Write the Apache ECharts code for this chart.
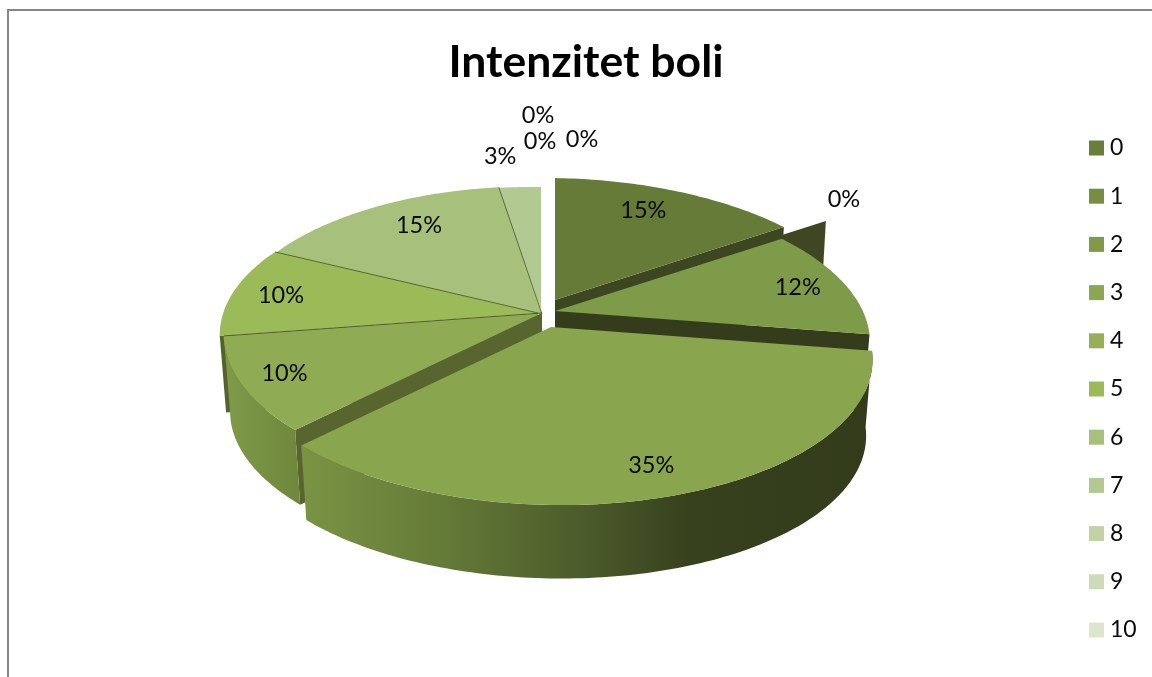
<!DOCTYPE html>
<html>
<head>
<meta charset="utf-8">
<style>html,body{margin:0;padding:0;background:#fff}#c{width:1152px;height:677px}</style>
<script src="https://cdn.jsdelivr.net/npm/echarts@6/dist/echarts.min.js"></script>
</head>
<body>
<div id="c"></div>
<script>
const chartTitle = 'Intenzitet boli';
const categories = ['0','1','2','3','4','5','6','7','8','9','10'];
const percents = [15,0,12,35,10,10,15.4,2.6,0,0,0];

// styling
const legendColors = ['#6a7e3a','#758e42','#7f9b48','#8ca751','#95b059','#9bba58','#a7c07b','#b3c992','#c1d3a5','#cddcb8','#dce6cd'];
const faceColors   = ['#667b37','#3e4722','#7d9b48','#89a54e','#8fab53','#9bba58','#a7c07b','#b3c992','#c1d3a5','#cddcb8','#dce6cd'];
const cutColors    = ['#3c4621','#3e4722','#343c1c',null,'#58652f','#55622e',null,null,null,null,null];
const drawOrder    = [5,4,6,8,7,3,2,1,0,0,0];
const edgeLine     = [0,0,0,0,1,1,1,0,0,0,0];
const faceOverlap  = [0,0,0,0,0,0,1.5,0,0,0,0];
const explode      = [[14,-13],[56,-19],[14,-2],[10,14],[1,0],[-3,0],[1,1],[0,-4],[0,0],[0,0],[0,0]];
const radiusScale  = [1,1,0.99,1.01,1,1,1,1,1,1,1];
const yScale       = [1,1,1,1,1,1,1.045,1,1,1,1];
const labelNudge   = [[-1,-9],[82,-39],[39,0],[15,30],[-53,9],[-43,-5],[-3,-12],[-25,-63],[41,-84],[-1,-82],[-3,-108]];
const CX = 541, CY = 313, RX = 313, RY = 144, PERSP = 0.181, DEPTH = 77, DEPTH_SCALE = 0.98, SHEAR = 0.0157;

const total = percents.reduce((a,b)=>a+b,0);
const starts = []; { let acc = 0; percents.forEach(v=>{ starts.push(acc/total*360); acc += v; }); }

function rim(i, deg, f, low, noShear) {
  const t = deg*Math.PI/180, r = f*radiusScale[i], X = r*Math.sin(t), Y = -r*Math.cos(t);
  const s = 1/(1-PERSP*Y);
  let x = RX*X*s, y = RY*yScale[i]*Y*s + (noShear ? 0 : SHEAR*RX*X*s);
  if (low) { x *= DEPTH_SCALE; y = y*DEPTH_SCALE + DEPTH; }
  return [CX+explode[i][0]+x, CY+explode[i][1]+y];
}
function arc(i, a, b, low) {
  const pts = [], n = Math.max(2, Math.ceil(Math.abs(b-a)));
  for (let k=0;k<=n;k++) pts.push(rim(i, a+(b-a)*k/n, 1, low));
  return pts;
}
function wallGradient(stops){
  return new echarts.graphic.LinearGradient(0,0,1,0,stops.map(s=>({offset:s[0],color:s[1]})));
}

const outerWalls = {
  3: { stops:[[0,'#7a9444'],[0.25,'#647a37'],[0.5,'#4b5a2a'],[0.68,'#37411d'],[1,'#333b1b']] },
  4: { stops:[[0,'#7f9b49'],[1,'#6e873c']] }
};

function sliceItem(i){
  return function(){
    const children = [];
    const v = percents[i], a = starts[i], b = a + v/total*360, mid = (a+b)/2;
    if (cutColors[i]) {
      const cut = mid < 180 ? b : a;
      const apexTop = rim(i,cut,0,false), apexLow = rim(i,cut,0,true);
      children.push({type:'polygon', silent:true,
        shape:{points:[apexTop, rim(i,cut,1,false), rim(i,cut,1,true), apexLow]},
        style:{fill:cutColors[i]}});
    }
    if (v > 0) {
      if (outerWalls[i]) {
        const top = arc(i,a,b,false), low = arc(i,a,b,true).reverse();
        children.push({type:'polygon', silent:true, shape:{points:top.concat(low)},
          style:{fill:wallGradient(outerWalls[i].stops)}});
      }
      children.push({type:'polygon', silent:true,
        shape:{points:[rim(i,a,0,false)].concat(arc(i,a-faceOverlap[i],b,false))},
        style:{fill:faceColors[i]}});
      if (edgeLine[i]) {
        children.push({type:'polyline', silent:true,
          shape:{points:[rim(i,b,0,false), rim(i,b,1,false)]},
          style:{stroke:'rgba(70,82,38,0.8)', lineWidth:1, fill:'none'}});
      }
    }
    return {type:'group', children};
  };
}

function labelItem(params){
  const i = params.dataIndex;
  const v = percents[i], a = starts[i], mid = a + v/total*180;
  const p = rim(i, mid, 0.7, false, true);
  return {type:'text', silent:true, style:{
    text: Math.round(v)+'%', x:p[0]+labelNudge[i][0], y:p[1]+labelNudge[i][1],
    align:'center', verticalAlign:'middle', font:'23.5px Lato', fill:'#0a0a0a'}};
}

const series = categories.map((name,i)=>({
  type:'custom', name, coordinateSystem:'none', z:2+drawOrder[i], animation:false,
  itemStyle:{color:legendColors[i]}, data:[[percents[i]]], renderItem:sliceItem(i)
}));
series.push({type:'custom', name:'labels', coordinateSystem:'none', z:30, animation:false,
  data:percents.map(v=>[v]), renderItem:labelItem});

const chart = echarts.init(document.getElementById('c'), null, {renderer:'canvas'});
chart.setOption({
  animation:false,
  backgroundColor:'#ffffff',
  title:{text:chartTitle, left:581, top:35, textAlign:'center',
    textStyle:{fontFamily:'Lato', fontWeight:'bold', fontSize:44.5, color:'#000'}},
  legend:{data:categories, orient:'vertical', left:1084, top:130, itemWidth:15, itemHeight:15,
    itemGap:22.2, selectedMode:false, icon:'rect',
    textStyle:{fontFamily:'Lato', fontSize:23, color:'#0a0a0a', lineHeight:24, padding:[2,0,0,1]}},
  tooltip:{show:false},
  graphic:[{type:'polyline', silent:true, z:1,
    shape:{points:[[8,677],[8,10],[1152,10]]},
    style:{stroke:'#868686', lineWidth:2, fill:'none'}}],
  series
});
</script>
</body>
</html>
